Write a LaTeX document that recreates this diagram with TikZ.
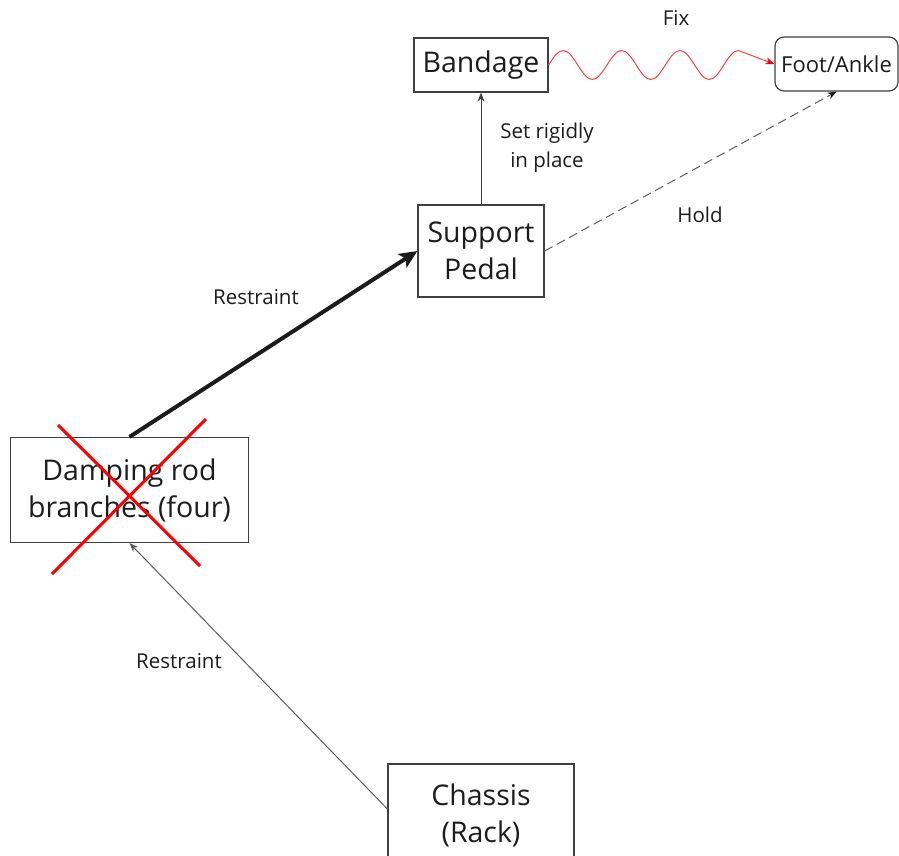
\documentclass[tikz,border=0pt]{standalone}
\usepackage{fontspec}
\setmainfont{Open Sans}
\usetikzlibrary{arrows.meta}
\definecolor{edge}{HTML}{404040}
\definecolor{ink}{HTML}{1C1C1C}
\definecolor{soft}{HTML}{5A5A5A}
\tikzset{
  box/.style={draw=edge, line width=1.2pt, inner sep=0pt, align=center,
    text=ink, font=\fontsize{28.5}{37}\selectfont},
  lbl/.style={text=ink, align=center, font=\fontsize{20.5}{29}\selectfont},
  thin arrow/.style={line width=1pt, -{Stealth[length=9pt,width=7pt]}},
}
\begin{document}
\begin{tikzpicture}[x=1pt,y=-1pt]
\useasboundingbox (0,0) rectangle (899,855);

% boxes
\node[box, minimum width=134pt, minimum height=54pt] (band) at (481,65) {Bandage};
\node[box, rounded corners=9pt, minimum width=123pt, minimum height=54pt,
      font=\fontsize{22}{28}\selectfont] (foot) at (836.5,64) {Foot/Ankle};
\node[box, minimum width=126pt, minimum height=92pt] (pedal) at (481,251) {Support\\Pedal};
\node[box, minimum width=238pt, minimum height=105pt] (damp) at (129.5,490) {Damping rod\\branches (four)};
% the chassis box runs on past the lower edge
\node[box, minimum width=186pt, minimum height=102pt] (chassis) at (481,815) {Chassis\\(Rack)};

% struck-out cross over the damping rod box
\coordinate (c1a) at (58,425);
\coordinate (c1b) at (200,566);
\coordinate (c2a) at (206,419);
\coordinate (c2b) at (52,574);
\draw[red, line width=3pt] (c1a) -- (c1b);
\draw[red, line width=3pt] (c2a) -- (c2b);

% connectors
\draw[ink, line width=4pt, -{Stealth[length=18pt,width=16pt,inset=4pt]}] (damp.north) -- (pedal.west);
\draw[soft, thin arrow] ([yshift=6pt]chassis.west) -- (damp.south);
\draw[edge, thin arrow] (pedal.north) -- (band.south);
\draw[soft, line width=1pt, dash pattern=on 9pt off 5pt,
      -{Stealth[length=9pt,width=7pt,color=ink]}] (pedal.east) -- (foot.south);
\draw[red!75, line width=1pt, -{Stealth[length=9pt,width=7pt,color=red]}]
  (band.east) sin ++(14.6,-14.5)
  cos ++(14.6,14.5) sin ++(14.6,14.5) cos ++(14.6,-14.5) sin ++(14.6,-14.5)
  cos ++(14.6,14.5) sin ++(14.6,14.5) cos ++(14.6,-14.5) sin ++(14.6,-14.5)
  cos ++(14.6,14.5) sin ++(14.6,14.5) cos ++(14.6,-14.5) sin ++(14.6,-14.5)
  -- (foot.west);

% labels
\node[lbl] (fix) at (676,18) {Fix};
\node[lbl] (rigid) at (547,148) {Set rigidly\\in place};
\node[lbl] (hold) at (700,215) {Hold};
\node[lbl] (restr1) at (256,297) {Restraint};
\node[lbl] (restr2) at (179,661) {Restraint};
\end{tikzpicture}
\end{document}
